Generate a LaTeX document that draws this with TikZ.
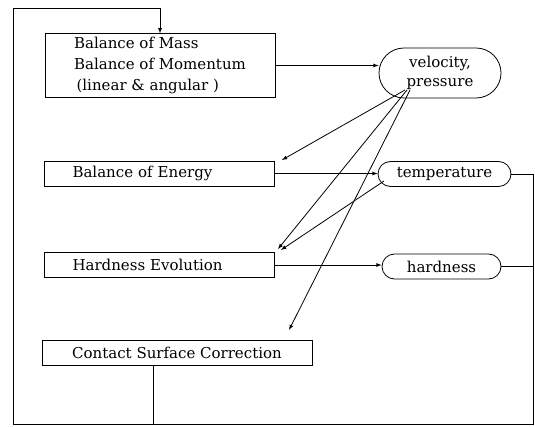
\documentclass[tikz,border=0pt]{standalone}
\usepackage{fontspec}
\setmainfont{DejaVu Serif}
\usetikzlibrary{shapes.misc}
\tikzset{
  box/.style={draw, rectangle, minimum width=230pt, minimum height=25pt, align=left, inner xsep=28pt},
  pill/.style={draw, rounded rectangle, minimum height=25pt, align=center, inner sep=2pt},
}
\begin{document}
\begin{tikzpicture}[x=1pt,y=-1pt,>=latex,line width=0.8pt,font=\fontsize{15}{21}\selectfont]
\useasboundingbox (0,0) rectangle (535,427);
% blocks
\node[box,minimum height=63pt] (mass) at (160,65.5) {Balance of Mass\\Balance of Momentum\\\,(linear \& angular )};
\node[box,text width=174pt] (energy) at (159.5,173.5) {Balance of Energy};
\node[box,text width=174pt] (hardevo) at (159.5,265) {Hardness Evolution};
\node[box,minimum width=270pt,align=center] (contact) at (177,352.5) {Contact Surface Correction};
% fields
\node[pill,minimum width=126pt,minimum height=50pt,font=\fontsize{15}{19}\selectfont] (vel) at (440,73) {velocity,\\pressure};
\node[pill,minimum width=137pt] (temp) at (444.5,174) {temperature};
\node[pill,minimum width=123pt] (hard) at (441.5,266.5) {hardness};
% loop corners
\coordinate (tl) at (13,8);
\coordinate (bl) at (13,424);
\coordinate (br) at (533,424);
\coordinate (cs) at (153,424);
% ends of the slanted arrows
\coordinate (vs1) at (405,90);
\coordinate (vs2) at (407,90);
\coordinate (vs3) at (410,90);
\coordinate (ts) at (384,181);
\coordinate (e1) at (282,160);
\coordinate (e2) at (278,249);
\coordinate (e3) at (289,330);
\coordinate (e4) at (281,250);
\draw[->] (mass.east) -- (mass.east -| vel.west);
\draw[->] (energy.east) -- (energy.east -| temp.west);
\draw[->] (hardevo.east) -- (hardevo.east -| hard.west);
\draw[->] (vs1) -- (e1);
\draw[->] (vs2) -- (e2);
\draw[->] (vs3) -- (e3);
\draw[->] (ts) -- (e4);
\draw (hard.east) -- (hard.east -| br);
\draw (cs |- contact.south) -- (cs);
\draw[->] (temp.east) -- (temp.east -| br) -- (br) -- (bl) -- (tl) -| (mass.north);
\end{tikzpicture}
\end{document}
